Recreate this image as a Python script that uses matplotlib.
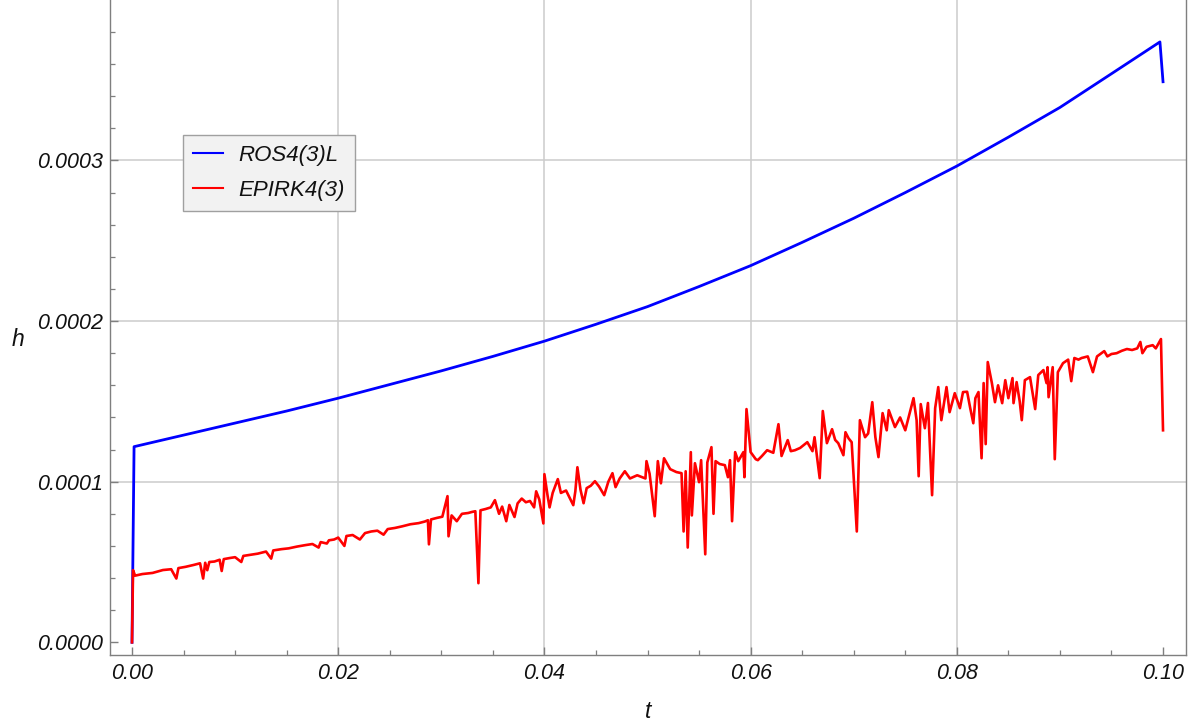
import matplotlib
matplotlib.use("Agg")
import matplotlib.pyplot as plt
from matplotlib.ticker import MultipleLocator, FixedLocator

# ---------------- data (h in units of 1e-4) ----------------
t_ros = [0.0, 0.0002, 0.005, 0.010, 0.015, 0.020, 0.025, 0.030, 0.035, 0.040,
         0.045, 0.050, 0.055, 0.060, 0.065, 0.070, 0.075, 0.080, 0.085, 0.090,
         0.095, 0.0997, 0.1000]
h_ros = [0.0, 1.218, 1.29, 1.365, 1.44, 1.52, 1.605, 1.69, 1.78, 1.875,
         1.98, 2.09, 2.215, 2.345, 2.49, 2.64, 2.80, 2.965, 3.145, 3.33,
         3.54, 3.738, 3.49]

t_epirk = [
    0.0000, 0.0001, 0.0003, 0.0010, 0.0020, 0.0030, 0.0038, 0.0043, 0.0045, 0.0052,
    0.0060, 0.0066, 0.0069, 0.0071, 0.0073, 0.0075, 0.0080, 0.0085, 0.0087, 0.0089,
    0.0095, 0.0100, 0.0106, 0.0108, 0.0115, 0.0122, 0.0130, 0.0135, 0.0137, 0.0145,
    0.0152, 0.0160, 0.0168, 0.0175, 0.0181, 0.0183, 0.0189, 0.0191, 0.0196, 0.0200,
    0.0206, 0.0208, 0.0214, 0.0221, 0.0226, 0.0232, 0.0238, 0.0244, 0.0248, 0.0255,
    0.0262, 0.0270, 0.0278, 0.0284, 0.0287, 0.0288, 0.0290, 0.0296, 0.0301, 0.0306,
    0.0307, 0.0310, 0.0315, 0.0320, 0.0326, 0.0330, 0.0333, 0.0336, 0.0338, 0.0343,
    0.0348, 0.0352, 0.0356, 0.0359, 0.0363, 0.0366, 0.0371, 0.0374, 0.0378, 0.0382,
    0.0386, 0.0390, 0.0392, 0.0395, 0.0399, 0.0400, 0.0403, 0.0405, 0.0408, 0.0413,
    0.0416, 0.0421, 0.0428, 0.0430, 0.0432, 0.0435, 0.0438, 0.0441, 0.0445, 0.0449,
    0.0453, 0.0458, 0.0462, 0.0466, 0.0469, 0.0473, 0.0478, 0.0483, 0.0490, 0.0498,
    0.0499, 0.0502, 0.0507, 0.0510, 0.0513, 0.0516, 0.0522, 0.0528, 0.0533, 0.0535,
    0.0537, 0.0539, 0.0542, 0.0543, 0.0546, 0.0550, 0.0552, 0.0556, 0.0558, 0.0562,
    0.0564, 0.0566, 0.0570, 0.0575, 0.0578, 0.0580, 0.0582, 0.0585, 0.0588, 0.0593,
    0.0594, 0.0596, 0.0600, 0.0605, 0.0607, 0.0611, 0.0616, 0.0622, 0.0627, 0.0630,
    0.0636, 0.0639, 0.0643, 0.0648, 0.0655, 0.0660, 0.0662, 0.0667, 0.0670, 0.0674,
    0.0679, 0.0682, 0.0685, 0.0690, 0.0692, 0.0695, 0.0698, 0.0703, 0.0706, 0.0711,
    0.0714, 0.0718, 0.0721, 0.0724, 0.0728, 0.0732, 0.0734, 0.0740, 0.0745, 0.0750,
    0.0755, 0.0758, 0.0761, 0.0763, 0.0765, 0.0769, 0.0772, 0.0776, 0.0779, 0.0782,
    0.0785, 0.0790, 0.0793, 0.0798, 0.0803, 0.0806, 0.0810, 0.0813, 0.0816, 0.0818,
    0.0821, 0.0824, 0.0826, 0.0828, 0.0830, 0.0834, 0.0837, 0.0840, 0.0844, 0.0847,
    0.0850, 0.0854, 0.0855, 0.0858, 0.0861, 0.0863, 0.0866, 0.0871, 0.0876, 0.0879,
    0.0884, 0.0887, 0.0888, 0.0889, 0.0893, 0.0895, 0.0898, 0.0903, 0.0908, 0.0911,
    0.0914, 0.0918, 0.0921, 0.0927, 0.0932, 0.0936, 0.0943, 0.0946, 0.0950, 0.0955,
    0.0960, 0.0965, 0.0970, 0.0975, 0.0978, 0.0980, 0.0984, 0.0990, 0.0993, 0.0998,
    0.1000]
h_epirk = [
    0.000, 0.449, 0.415, 0.425, 0.432, 0.450, 0.455, 0.397, 0.462, 0.470,
    0.482, 0.492, 0.397, 0.495, 0.449, 0.500, 0.503, 0.514, 0.444, 0.518,
    0.525, 0.530, 0.500, 0.538, 0.545, 0.552, 0.565, 0.521, 0.572, 0.580,
    0.585, 0.596, 0.605, 0.612, 0.590, 0.624, 0.615, 0.635, 0.640, 0.652,
    0.600, 0.662, 0.668, 0.640, 0.680, 0.690, 0.695, 0.670, 0.705, 0.712,
    0.722, 0.735, 0.742, 0.752, 0.760, 0.610, 0.765, 0.775, 0.782, 0.910,
    0.660, 0.790, 0.754, 0.800, 0.805, 0.812, 0.816, 0.368, 0.822, 0.830,
    0.840, 0.885, 0.800, 0.845, 0.754, 0.855, 0.780, 0.865, 0.895, 0.872,
    0.880, 0.840, 0.940, 0.890, 0.740, 1.047, 0.916, 0.840, 0.930, 1.016,
    0.930, 0.945, 0.854, 0.940, 1.090, 0.950, 0.866, 0.960, 0.975, 1.003,
    0.970, 0.916, 1.000, 1.053, 0.966, 1.020, 1.065, 1.020, 1.040, 1.020,
    1.128, 1.050, 0.785, 1.128, 0.990, 1.146, 1.078, 1.060, 1.053, 0.690,
    1.065, 0.590, 1.184, 0.790, 1.115, 0.997, 1.134, 0.548, 1.120, 1.215,
    0.800, 1.128, 1.110, 1.103, 1.028, 1.134, 0.754, 1.184, 1.128, 1.184,
    1.028, 1.452, 1.184, 1.140, 1.134, 1.160, 1.196, 1.180, 1.358, 1.160,
    1.259, 1.190, 1.196, 1.210, 1.246, 1.190, 1.277, 1.022, 1.440, 1.240,
    1.327, 1.260, 1.240, 1.165, 1.308, 1.270, 1.246, 0.690, 1.383, 1.277,
    1.300, 1.495, 1.277, 1.153, 1.427, 1.320, 1.445, 1.340, 1.400, 1.320,
    1.445, 1.520, 1.383, 1.034, 1.483, 1.333, 1.490, 0.916, 1.458, 1.589,
    1.383, 1.589, 1.433, 1.551, 1.458, 1.558, 1.560, 1.458, 1.364, 1.520,
    1.558, 1.146, 1.614, 1.234, 1.745, 1.614, 1.495, 1.600, 1.489, 1.632,
    1.520, 1.645, 1.489, 1.620, 1.500, 1.383, 1.632, 1.651, 1.452, 1.664,
    1.695, 1.614, 1.713, 1.526, 1.713, 1.140, 1.682, 1.738, 1.760, 1.626,
    1.770, 1.760, 1.770, 1.780, 1.682, 1.780, 1.813, 1.780, 1.795, 1.800,
    1.815, 1.826, 1.820, 1.830, 1.870, 1.800, 1.840, 1.850, 1.830, 1.888,
    1.320]

series_labels = ["ROS4(3)L", "EPIRK4(3)"]
x_ticks = [0.00, 0.02, 0.04, 0.06, 0.08, 0.10]
x_tick_labels = ["0.00", "0.02", "0.04", "0.06", "0.08", "0.10"]
y_ticks = [0.0, 1.0, 2.0, 3.0]
y_tick_labels = ["0.0000", "0.0001", "0.0002", "0.0003"]

# ---------------- figure ----------------
W, H, DPI = 1194, 724, 100
fig = plt.figure(figsize=(W / DPI, H / DPI), dpi=DPI)
ax_left, ax_right, ax_bottom, ax_top = 110, 1185.5, 655, 0
ax = fig.add_axes([ax_left / W, (H - ax_bottom) / H,
                   (ax_right - ax_left) / W, (ax_bottom - ax_top) / H])

font = "Liberation Sans"
tick_color = "#111111"
frame_color = "#7f7f7f"

ax.set_xlim(-0.002134, 0.10218)
ax.set_ylim(-0.079, 3.999)

# grid lines at interior major ticks only
for gx in x_ticks[1:-1]:
    ax.axvline(gx, color="#cccccc", lw=1.1, zorder=0)
for gy in y_ticks[1:]:
    ax.axhline(gy, color="#cccccc", lw=1.1, zorder=0)

ax.plot(t_ros, h_ros, color="#0000ff", lw=2.0, label=series_labels[0],
        solid_joinstyle="round", zorder=3)
ax.plot(t_epirk, h_epirk, color="#ff0000", lw=1.9, label=series_labels[1],
        solid_joinstyle="round", zorder=4)

ax.xaxis.set_major_locator(FixedLocator(x_ticks))
ax.xaxis.set_minor_locator(MultipleLocator(0.005))
ax.yaxis.set_major_locator(FixedLocator(y_ticks))
ax.yaxis.set_minor_locator(MultipleLocator(0.2))
ax.set_xticklabels(x_tick_labels)
ax.set_yticklabels(y_tick_labels)

ax.tick_params(which="both", direction="in", color=frame_color,
               top=False, right=False)
ax.tick_params(which="major", length=6, width=1.0)
ax.tick_params(which="minor", length=3.5, width=0.9)
ax.tick_params(axis="x", which="major", pad=6)
ax.tick_params(axis="y", which="major", pad=5)
for lab in ax.get_xticklabels() + ax.get_yticklabels():
    lab.set_fontfamily(font)
    lab.set_fontstyle("italic")
    lab.set_fontsize(15.5)
    lab.set_color(tick_color)

for side in ["left", "bottom", "right"]:
    ax.spines[side].set_color(frame_color)
    ax.spines[side].set_linewidth(1.0)
ax.spines["top"].set_visible(False)

fig.text(648 / W, 1 - 712 / H, "t", fontfamily=font, fontstyle="italic",
         fontsize=16.5, color=tick_color, ha="center", va="center")
fig.text(18 / W, 1 - 340 / H, "h", fontfamily=font, fontstyle="italic",
         fontsize=16.5, color=tick_color, ha="center", va="center")

leg = ax.legend(loc="upper left",
                bbox_to_anchor=((183 - ax_left) / (ax_right - ax_left),
                                (ax_bottom - 135) / (ax_bottom - ax_top)),
                borderaxespad=0, fancybox=False, frameon=True,
                prop={"family": font, "style": "italic", "size": 16},
                handlelength=1.35, handletextpad=0.7, labelspacing=0.62,
                borderpad=0.45)
leg.get_frame().set_facecolor("#f2f2f2")
leg.get_frame().set_edgecolor("#a0a0a0")
leg.get_frame().set_linewidth(1.0)
leg.get_frame().set_alpha(1.0)
for lh in leg.get_lines():
    lh.set_linewidth(1.5)
for txt in leg.get_texts():
    txt.set_color(tick_color)

fig.savefig("out.png", dpi=DPI, facecolor="white")
